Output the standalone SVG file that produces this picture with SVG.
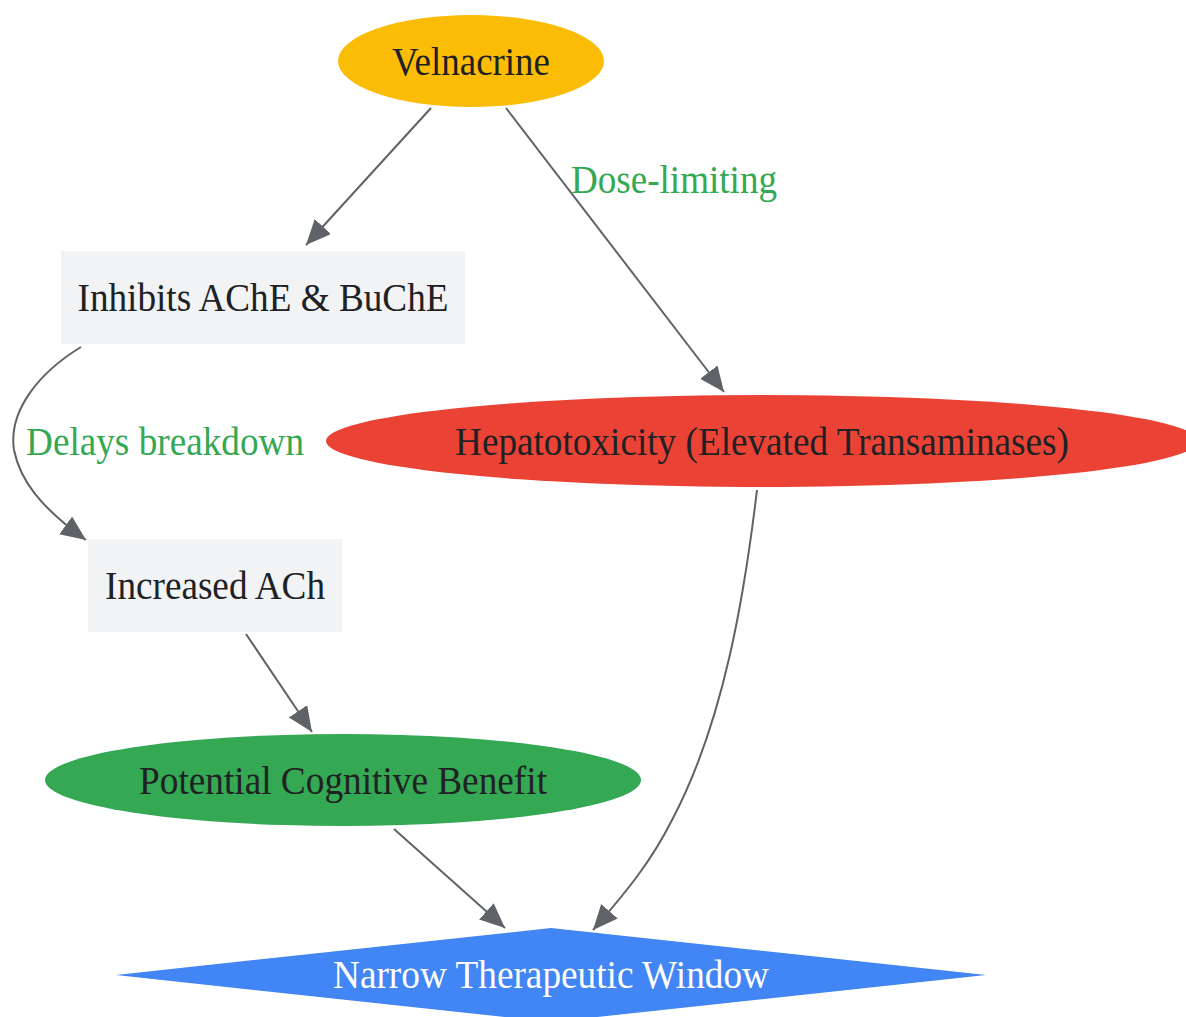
<svg xmlns="http://www.w3.org/2000/svg" width="1186" height="1017" viewBox="0 0 1186 1017">
<style>
text{font-family:"Liberation Serif","Times New Roman",serif;font-size:39px;text-anchor:middle;fill:#202124}
.lbl{fill:#34A853}
.edge{fill:none;stroke:#5F6368;stroke-width:2;marker-end:url(#ah)}
</style>
<defs>
<marker id="ah" markerUnits="userSpaceOnUse" markerWidth="28" markerHeight="24" refX="25" refY="11" orient="auto">
<path d="M0,0 L25,11 L0,22 z" fill="#5F6368"/>
</marker>
</defs>
<rect width="1186" height="1017" fill="#ffffff"/>
<g id="edges">
<path class="edge" d="M431,108 L306,245"/>
<path class="edge" d="M506,108 L724,392"/>
<text class="lbl" x="674" y="193" textLength="206" lengthAdjust="spacingAndGlyphs">Dose-limiting</text>
<path class="edge" d="M81,347 C40,372 8,410 14,450 C20,480 40,507 86,540"/>
<text class="lbl" x="165" y="455" textLength="278" lengthAdjust="spacingAndGlyphs">Delays breakdown</text>
<path class="edge" d="M246,634 L312,732"/>
<path class="edge" d="M394,829 L505,928"/>
<path class="edge" d="M757,490 C745,590 725,720 672,820 C652,860 628,890 593,930"/>
</g>
<g id="velnacrine">
<ellipse cx="471" cy="61" rx="133" ry="46" fill="#FBBC05"/>
<text x="471" y="75" textLength="158" lengthAdjust="spacingAndGlyphs">Velnacrine</text>
</g>
<g id="inhibits">
<rect x="61" y="251" width="404" height="93" fill="#F1F3F4"/>
<text x="263" y="311" textLength="371" lengthAdjust="spacingAndGlyphs">Inhibits AChE &amp; BuChE</text>
</g>
<g id="hepatotoxicity">
<ellipse cx="762" cy="441" rx="436" ry="46" fill="#EA4335"/>
<text x="762" y="455" textLength="614" lengthAdjust="spacingAndGlyphs">Hepatotoxicity (Elevated Transaminases)</text>
</g>
<g id="increased">
<rect x="88" y="539" width="254" height="93" fill="#F1F3F4"/>
<text x="215" y="599" textLength="220" lengthAdjust="spacingAndGlyphs">Increased ACh</text>
</g>
<g id="benefit">
<ellipse cx="343" cy="780" rx="298" ry="46" fill="#34A853"/>
<text x="343" y="794" textLength="408" lengthAdjust="spacingAndGlyphs">Potential Cognitive Benefit</text>
</g>
<g id="window">
<polygon points="551,928 986,975 551,1022 116,975" fill="#4285F4"/>
<text x="551" y="988" textLength="436" lengthAdjust="spacingAndGlyphs" style="fill:#ffffff">Narrow Therapeutic Window</text>
</g>
</svg>
